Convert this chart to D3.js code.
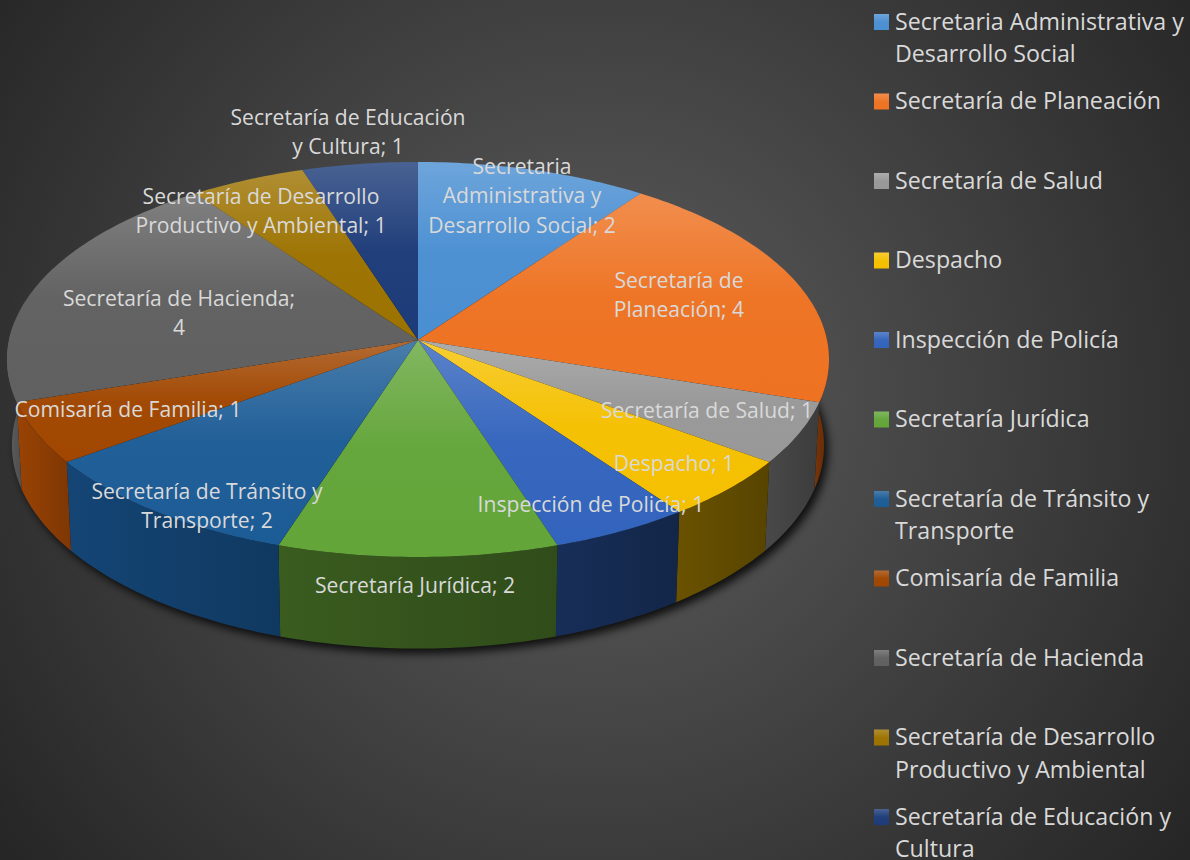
<!DOCTYPE html>
<html>
<head>
<meta charset="utf-8">
<script src="https://cdn.jsdelivr.net/npm/d3@7"></script>
<style>
  html, body { margin: 0; padding: 0; background: #333; overflow: hidden; }
  text { font-family: "Open Sans", sans-serif; }
</style>
</head>
<body>
<svg id="chart" width="1190" height="860"></svg>
<script>
const categories = [
  "Secretaria Administrativa y Desarrollo Social",
  "Secretaría de Planeación",
  "Secretaría de Salud",
  "Despacho",
  "Inspección de Policía",
  "Secretaría Jurídica",
  "Secretaría de Tránsito y Transporte",
  "Comisaría de Familia",
  "Secretaría de Hacienda",
  "Secretaría de Desarrollo Productivo y Ambiental",
  "Secretaría de Educación y Cultura"
];
const values = [2, 4, 1, 1, 1, 2, 2, 1, 4, 1, 1];

// Line breaks as they appear in the picture
const labelLines = [
  ["Secretaria", "Administrativa y", "Desarrollo Social; 2"],
  ["Secretaría de", "Planeación; 4"],
  ["Secretaría de Salud; 1"],
  ["Despacho; 1"],
  ["Inspección de Policía; 1"],
  ["Secretaría Jurídica; 2"],
  ["Secretaría de Tránsito y", "Transporte; 2"],
  ["Comisaría de Familia; 1"],
  ["Secretaría de Hacienda;", "4"],
  ["Secretaría de Desarrollo", "Productivo y Ambiental; 1"],
  ["Secretaría de Educación", "y Cultura; 1"]
];
const legendLines = [
  ["Secretaria Administrativa y", "Desarrollo Social"],
  ["Secretaría de Planeación"],
  ["Secretaría de Salud"],
  ["Despacho"],
  ["Inspección de Policía"],
  ["Secretaría Jurídica"],
  ["Secretaría de Tránsito y", "Transporte"],
  ["Comisaría de Familia"],
  ["Secretaría de Hacienda"],
  ["Secretaría de Desarrollo", "Productivo y Ambiental"],
  ["Secretaría de Educación y", "Cultura"]
];

// Colours
const topColors = ["#4a8fd2", "#ee7222", "#989898", "#f5c000", "#3364bd", "#63a539",
                   "#1c5c96", "#a04600", "#606060", "#9c7200", "#1c3b78"];
const wallColors = ["#2c5680", "#6b2f08", "#424242", "#5f4a00", "#15294f", "#34531c",
                    "#123e69", "#8a3c04", "#555555", "#5f4a00", "#15294f"];

// Label anchors: centre x, first baseline
const labelAnchors = [
  [522, 174], [679, 288], [707, 418], [674, 471], [591, 512], [415, 593],
  [207, 499], [128, 417], [179, 306], [261, 204], [348, 125]
];

const svg = d3.select("#chart");
const defs = svg.append("defs");

// Background
const bg = defs.append("radialGradient")
  .attr("id", "bg")
  .attr("gradientUnits", "userSpaceOnUse")
  .attr("cx", 595).attr("cy", 400).attr("r", 740);
bg.append("stop").attr("offset", 0).attr("stop-color", "#5e5e5e");
bg.append("stop").attr("offset", 1).attr("stop-color", "#262626");
svg.append("rect").attr("width", 1190).attr("height", 860).attr("fill", "url(#bg)");

const blur = defs.append("filter")
  .attr("id", "blur")
  .attr("x", "-10%").attr("y", "-10%").attr("width", "120%").attr("height", "120%");
blur.append("feGaussianBlur").attr("stdDeviation", 4);

const color = d3.scaleOrdinal().domain(categories).range(topColors);
const wall = d3.scaleOrdinal().domain(categories).range(wallColors);

// Gradients for each slice
categories.forEach((c, i) => {
  const base = color(c);
  const g = defs.append("linearGradient")
    .attr("id", "top" + i)
    .attr("x1", 0).attr("y1", 0).attr("x2", 0).attr("y2", 1);
  g.append("stop").attr("offset", 0).attr("stop-color", d3.interpolateRgb(base, "#fff")(0.2));
  g.append("stop").attr("offset", 0.5).attr("stop-color", d3.interpolateRgb(base, "#fff")(0.02));
  g.append("stop").attr("offset", 1).attr("stop-color", base);

  const w = defs.append("linearGradient")
    .attr("id", "wall" + i)
    .attr("x1", 0).attr("y1", 0).attr("x2", 1).attr("y2", 0);
  const wc = wall(c);
  w.append("stop").attr("offset", 0).attr("stop-color", d3.rgb(wc).brighter(0.3));
  w.append("stop").attr("offset", 1).attr("stop-color", d3.rgb(wc).darker(0.25));
});

// Perspective projection of the pie circle
const cx = 418, cy = 340, rx = 409, ry = 195.6, k = 0.0987;
function project(a, r = 1) {
  const w = 1 + k * r * Math.cos(a);
  return [cx + rx * r * Math.sin(a) / w, cy - ry * r * Math.cos(a) / w];
}
// The lower rim: slightly narrower, pushed down
function projectBottom(a) {
  const p = project(a);
  return [cx + (p[0] - cx) * 0.988, cy + 85 + (p[1] - cy) * 1.03];
}

const pie = d3.pie().sort(null).value(d => d.value);
const arcs = pie(categories.map((c, i) => ({ name: c, value: values[i] })));

const line = d3.line();
const step = Math.PI / 180;
const arcAngles = (a0, a1) => d3.range(a0, a1, step).concat([a1]);

// Shadow under the pie
svg.append("path")
  .attr("d", line(arcAngles(0, 2 * Math.PI).map(projectBottom)) + "Z")
  .attr("transform", "translate(4,5)")
  .attr("fill", "#000")
  .attr("opacity", 0.8)
  .attr("filter", "url(#blur)");

// Side walls, only the part that faces the viewer
const wallFrom = 85 * step, wallTo = 275 * step;
svg.append("g").selectAll("path")
  .data(arcs.filter(d => d.endAngle > wallFrom && d.startAngle < wallTo))
  .enter().append("path")
  .attr("d", d => {
    const as = arcAngles(Math.max(d.startAngle, wallFrom), Math.min(d.endAngle, wallTo));
    return line(as.map(a => project(a)).concat(as.slice().reverse().map(projectBottom))) + "Z";
  })
  .attr("fill", d => `url(#wall${d.index})`);

// Top faces
svg.append("g").selectAll("path")
  .data(arcs)
  .enter().append("path")
  .attr("d", d => line([[cx, cy]].concat(arcAngles(d.startAngle, d.endAngle).map(a => project(a)))) + "Z")
  .attr("fill", d => `url(#top${d.index})`);

// Data labels
const labels = svg.append("g")
  .attr("fill", "#d9d9d9")
  .attr("font-size", 21.1)
  .attr("text-anchor", "middle");
labelLines.forEach((lines, i) => {
  const t = labels.append("text");
  lines.forEach((l, j) => {
    t.append("tspan")
      .attr("x", labelAnchors[i][0])
      .attr("y", labelAnchors[i][1] + j * 29.4)
      .text(l);
  });
});

// Legend
const legendY = d3.scalePoint().domain(categories).range([22, 817]);
const legend = svg.append("g").selectAll("g")
  .data(categories)
  .enter().append("g")
  .attr("transform", d => `translate(874,${legendY(d)})`);
legend.append("rect")
  .attr("y", -8).attr("width", 15).attr("height", 16)
  .attr("fill", (d, i) => `url(#top${i})`);
legend.each(function(d, i) {
  const t = d3.select(this).append("text")
    .attr("fill", "#d9d9d9")
    .attr("font-size", 23.2);
  legendLines[i].forEach((l, j) => {
    t.append("tspan").attr("x", 21).attr("y", 7.5 + j * 32.5).text(l);
  });
});
</script>
</body>
</html>
